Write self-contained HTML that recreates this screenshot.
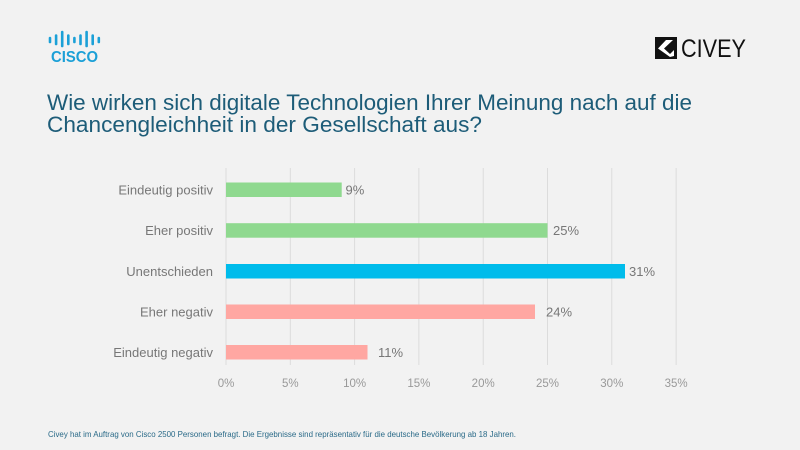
<!DOCTYPE html>
<html><head><meta charset="utf-8"><style>
html,body{margin:0;padding:0;background:#f2f2f2;}
svg{display:block;font-family:"Liberation Sans",Arial,sans-serif;}
</style></head><body>
<svg width="800" height="450" viewBox="0 0 800 450" xmlns="http://www.w3.org/2000/svg">
<rect width="800" height="450" fill="#f2f2f2"/>
<!-- Cisco logo -->
<g stroke="#1ba0d7" stroke-width="2.6" stroke-linecap="round">
<line x1="50" y1="38" x2="50" y2="42"/>
<line x1="56.1" y1="35.5" x2="56.1" y2="44"/>
<line x1="62.2" y1="32" x2="62.2" y2="46"/>
<line x1="68.3" y1="35.5" x2="68.3" y2="44"/>
<line x1="74.4" y1="38" x2="74.4" y2="42"/>
<line x1="80.5" y1="35.5" x2="80.5" y2="44"/>
<line x1="86.6" y1="32" x2="86.6" y2="46"/>
<line x1="92.7" y1="35.5" x2="92.7" y2="44"/>
<line x1="98.8" y1="38" x2="98.8" y2="42"/>
</g>
<text x="51" y="62" font-size="15.5" font-weight="bold" fill="#1ba0d7" textLength="47" lengthAdjust="spacingAndGlyphs">CISCO</text>
<!-- Civey logo -->
<rect x="655" y="37" width="22" height="22" fill="#111"/>
<polygon points="666,40 673,40 664,48.5 670,54 674,50 674,56 670,57 658,48.5" fill="#fff"/>
<text x="681" y="57" font-size="25" fill="#111" textLength="65" lengthAdjust="spacingAndGlyphs">CIVEY</text>
<!-- Title -->
<text x="47" y="110" font-size="22" fill="#1d5c78" textLength="645" lengthAdjust="spacingAndGlyphs">Wie wirken sich digitale Technologien Ihrer Meinung nach auf die</text>
<text x="47" y="132" font-size="22" fill="#1d5c78" textLength="435" lengthAdjust="spacingAndGlyphs">Chancengleichheit in der Gesellschaft aus?</text>
<!-- gridlines -->
<g stroke="#dcdcdc" stroke-width="1">
<line x1="226" y1="168" x2="226" y2="365"/>
<line x1="290.3" y1="168" x2="290.3" y2="365"/>
<line x1="354.6" y1="168" x2="354.6" y2="365"/>
<line x1="418.9" y1="168" x2="418.9" y2="365"/>
<line x1="483.2" y1="168" x2="483.2" y2="365"/>
<line x1="547.5" y1="168" x2="547.5" y2="365"/>
<line x1="611.8" y1="168" x2="611.8" y2="365"/>
<line x1="676.1" y1="168" x2="676.1" y2="365"/>
</g>
<!-- bars -->
<rect x="226" y="182.5" width="115.7" height="14.5" fill="#8fd98f"/>
<rect x="226" y="223.2" width="321.5" height="14.5" fill="#8fd98f"/>
<rect x="226" y="264" width="399" height="14.5" fill="#00bceb"/>
<rect x="226" y="304.5" width="309" height="14.5" fill="#ffa7a2"/>
<rect x="226" y="345" width="141.5" height="14.5" fill="#ffa7a2"/>
<!-- category labels -->
<g font-size="13" fill="#777" text-anchor="end">
<text x="213" y="194.5">Eindeutig positiv</text>
<text x="213" y="235">Eher positiv</text>
<text x="213" y="276">Unentschieden</text>
<text x="213" y="316.5">Eher negativ</text>
<text x="213" y="357">Eindeutig negativ</text>
</g>
<!-- value labels -->
<g font-size="13" fill="#777">
<text x="345.5" y="194.5">9%</text>
<text x="553" y="235">25%</text>
<text x="629" y="276">31%</text>
<text x="546" y="316.5">24%</text>
<text x="378" y="357">11%</text>
</g>
<!-- tick labels -->
<g font-size="11.5" fill="#999" text-anchor="middle">
<text x="226" y="387">0%</text>
<text x="290.3" y="387">5%</text>
<text x="354.6" y="387">10%</text>
<text x="418.9" y="387">15%</text>
<text x="483.2" y="387">20%</text>
<text x="547.5" y="387">25%</text>
<text x="611.8" y="387">30%</text>
<text x="676.1" y="387">35%</text>
</g>
<!-- footer -->
<text x="48" y="437" font-size="8.5" fill="#2a6a88" textLength="468" lengthAdjust="spacingAndGlyphs">Civey hat im Auftrag von Cisco 2500 Personen befragt. Die Ergebnisse sind repräsentativ für die deutsche Bevölkerung ab 18 Jahren.</text>
</svg>
</body></html>
